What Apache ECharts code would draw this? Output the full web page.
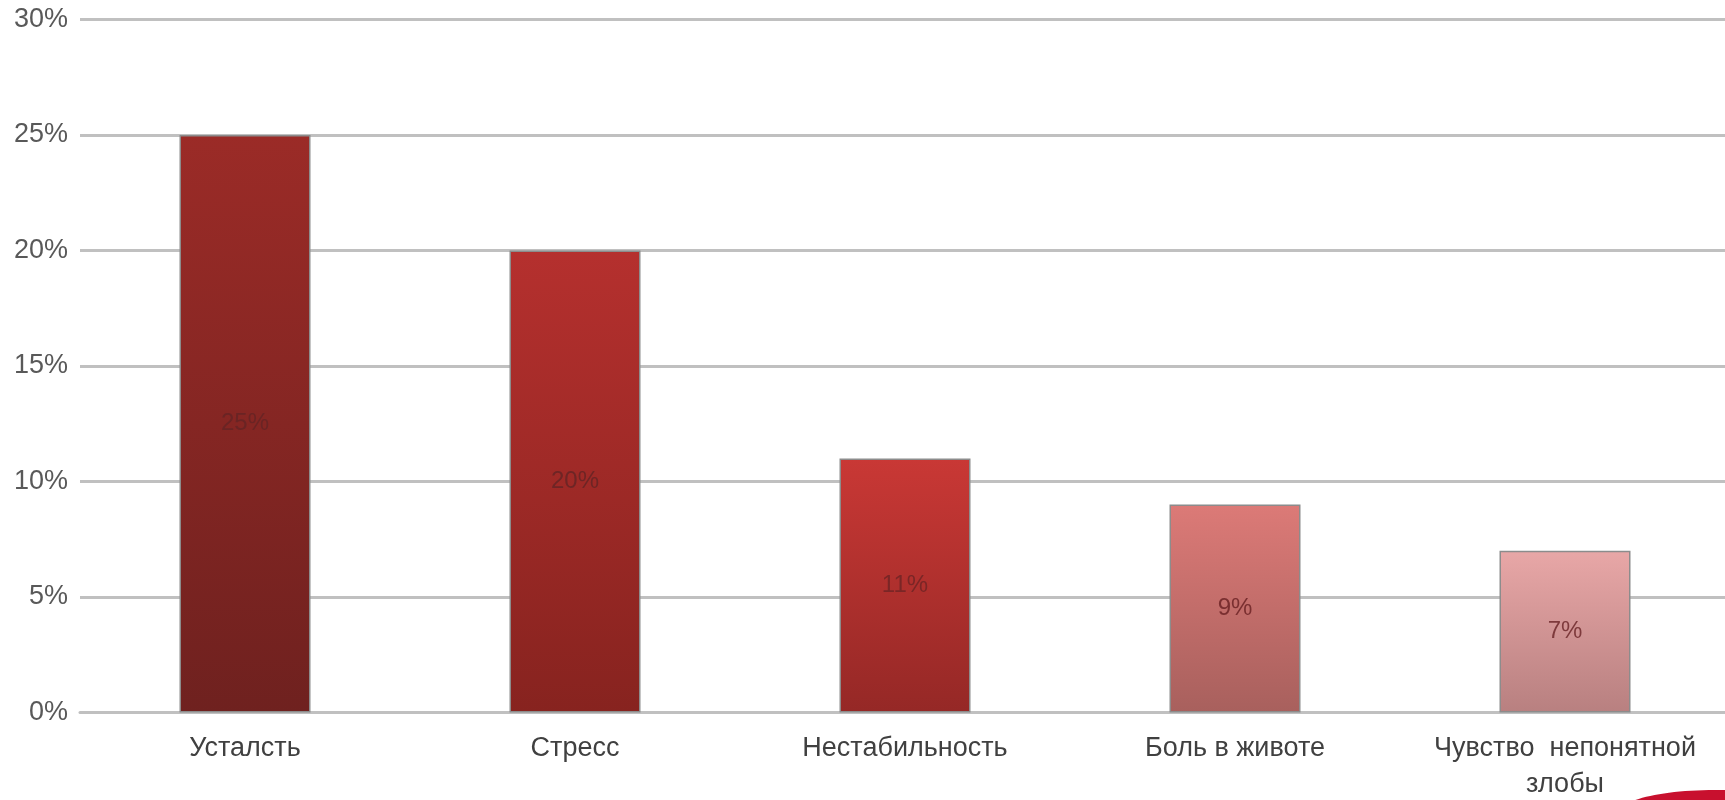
<!DOCTYPE html>
<html>
<head>
<meta charset="utf-8">
<script src="https://cdn.jsdelivr.net/npm/echarts@6/dist/echarts.min.js"></script>
<style>
html,body{margin:0;padding:0;background:#fff;}
#chart{width:1725px;height:800px;}
</style>
</head>
<body>
<div id="chart"></div>
<script>
const categories = ['Усталсть', 'Стресс', 'Нестабильность', 'Боль в животе', 'Чувство  непонятной злобы'];
const values = [25, 20, 11, 9, 7];
const yTicks = [0, 5, 10, 15, 20, 25, 30];
const barTopColors = ['#9b2b27', '#b5302e', '#c93835', '#dc7a77', '#e8a7a7'];
const barBottomColors = ['#6f211f', '#87231f', '#952826', '#a8605d', '#b88080'];
const labelColors = ['#6a2424', '#6e2525', '#7a2626', '#7a2f30', '#7e3a3c'];

const chart = echarts.init(document.getElementById('chart'));
const font = '"Liberation Sans", Arial, sans-serif';

function wrapLabel(v) {
  if (v.length <= 20) return v;
  const i = v.lastIndexOf(' ');
  return v.slice(0, i) + '\n' + v.slice(i + 1);
}

chart.setOption({
  backgroundColor: '#ffffff',
  animation: false,
  grid: { left: 80, top: 19.5, height: 693, width: 1650, containLabel: false, outerBoundsMode: 'none' },
  xAxis: {
    type: 'category',
    data: categories,
    axisLine: { show: true, lineStyle: { color: '#c0c0c0', width: 3 } },
    axisTick: { show: false },
    axisLabel: {
      color: '#404040', fontFamily: font, fontSize: 27, margin: 18,
      lineHeight: 36, interval: 0, hideOverlap: false, overflow: 'none',
      formatter: wrapLabel
    }
  },
  yAxis: {
    type: 'value',
    min: yTicks[0], max: yTicks[yTicks.length - 1], interval: 5,
    axisLine: { show: false },
    axisTick: { show: false },
    splitLine: { lineStyle: { color: '#c0c0c0', width: 3 } },
    axisLabel: {
      formatter: '{value}%', color: '#595959', fontFamily: font, fontSize: 27, margin: 12
    }
  },
  series: [{
    type: 'bar',
    barWidth: 131,
    data: values.map((v, i) => ({
      value: v,
      itemStyle: {
        color: new echarts.graphic.LinearGradient(0, 0, 0, 1, [
          { offset: 0, color: barTopColors[i] },
          { offset: 1, color: barBottomColors[i] }
        ]),
        borderColor: '#8c8c8c', borderWidth: 1.5
      },
      label: { color: labelColors[i] }
    })),
    label: {
      show: true, position: 'inside', formatter: '{c}%',
      fontFamily: font, fontSize: 24
    }
  }],
  graphic: [{
    type: 'ellipse',
    shape: { cx: 1715, cy: 812, rx: 95, ry: 22 },
    style: { fill: '#c8102e' },
    silent: true
  }]
});
</script>
</body>
</html>
